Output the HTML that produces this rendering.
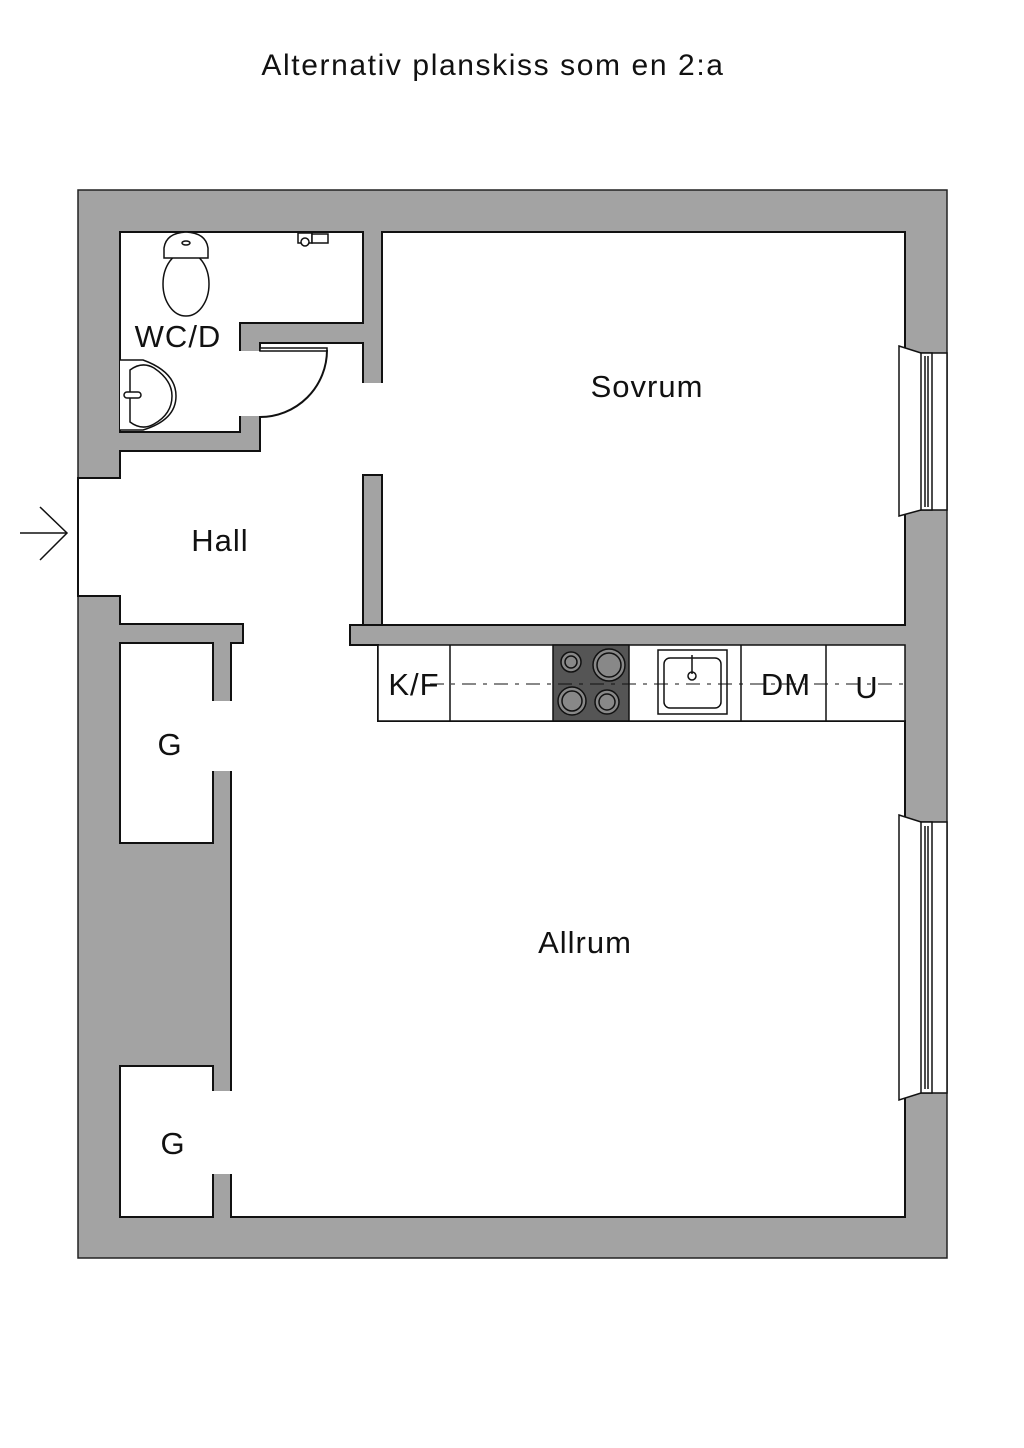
<!DOCTYPE html>
<html><head><meta charset="utf-8"><style>
html,body{margin:0;padding:0;background:#fff}
svg{display:block}
text{font-family:"Liberation Sans",sans-serif;fill:#111}
</style></head><body>
<svg width="1024" height="1448" viewBox="0 0 1024 1448" xmlns="http://www.w3.org/2000/svg">
<text x="493" y="75" font-size="30" letter-spacing="1.6" text-anchor="middle">Alternativ planskiss som en 2:a</text>
<rect x="78" y="190" width="869" height="1068" fill="#a3a3a3" stroke="#222" stroke-width="1.5"/>
<g fill="#fff" stroke="#111" stroke-width="2">
<polygon points="120,232 363,232 363,323 240,323 240,432 120,432"/>
<rect x="382" y="232" width="523" height="393"/>
<polygon points="120,451 260,451 260,343 363,343 363,625 350,625 350,645 378,645 378,721 905,721 905,1217 231,1217 231,643 243,643 243,624 120,624 120,596 78,596 78,478 120,478"/>
<rect x="120" y="643" width="93" height="200"/>
<rect x="120" y="1066" width="93" height="151"/>
</g>
<g fill="#fff">
<rect x="239" y="351" width="23" height="65"/>
<rect x="361" y="383" width="23" height="91"/>
<rect x="211" y="701" width="22" height="70"/>
<rect x="211" y="1091" width="22" height="83"/>
</g>
<rect x="363" y="475" width="19" height="150" fill="#a3a3a3" stroke="#111" stroke-width="2"/>
<rect x="351" y="626" width="554" height="18" fill="#a3a3a3"/>
<line x1="350" y1="625" x2="363" y2="625" stroke="#111" stroke-width="2"/>
<line x1="382" y1="625" x2="905" y2="625" stroke="#111" stroke-width="2"/>
<line x1="350" y1="625" x2="350" y2="645" stroke="#111" stroke-width="2"/>
<line x1="350" y1="645" x2="378" y2="645" stroke="#111" stroke-width="2"/>
<line x1="382" y1="538" x2="382" y2="548" stroke="#111" stroke-width="1"/>
<line x1="382" y1="597" x2="382" y2="607" stroke="#111" stroke-width="1"/>
<g fill="none" stroke="#111" stroke-width="2">
<rect x="260" y="348" width="67" height="3" fill="#fff" stroke-width="1.5"/>
<path d="M327,350 A67,67 0 0 1 260,417"/>
</g>
<g fill="#fff" stroke="#111" stroke-width="1.5">
<ellipse cx="186" cy="284" rx="23" ry="32"/>
<path d="M164,258 L164,248 Q166,233 186,232 Q206,233 208,248 L208,258 Z"/>
<ellipse cx="186" cy="243" rx="4" ry="2"/>
<rect x="298" y="233" width="14" height="10"/><rect x="312" y="234" width="16" height="9"/><circle cx="305" cy="242" r="4"/>
</g>
<g fill="#fff" stroke="#111" stroke-width="1.5">
<path d="M120,360 L143,360 Q176,372 176,396 Q176,420 143,430 L120,430"/>
<path d="M130,370 Q142,361 154,368 Q172,380 172,396 Q172,414 154,424 Q142,431 130,422 Z"/>
<rect x="124" y="392" width="17" height="6" rx="3"/>
</g>
<g stroke="#111" stroke-width="1.5">
<rect x="378" y="645" width="527" height="76" fill="#fff"/>
<rect x="553" y="645" width="76" height="76" fill="#555"/>
<line x1="450" y1="645" x2="450" y2="721"/>
<line x1="741" y1="645" x2="741" y2="721"/>
<line x1="826" y1="645" x2="826" y2="721"/>
</g>
<g fill="#888" stroke="#111" stroke-width="1.5">
<circle cx="571" cy="662" r="10"/><circle cx="571" cy="662" r="6"/>
<circle cx="609" cy="665" r="16"/><circle cx="609" cy="665" r="12"/>
<circle cx="572" cy="701" r="14"/><circle cx="572" cy="701" r="10"/>
<circle cx="607" cy="702" r="12"/><circle cx="607" cy="702" r="8"/>
</g>
<g fill="none" stroke="#111" stroke-width="1.5">
<rect x="658" y="650" width="69" height="64"/>
<rect x="664" y="658" width="57" height="50" rx="6"/>
<line x1="692" y1="655" x2="692" y2="674"/><circle cx="692" cy="676" r="4"/>
</g>
<line x1="430" y1="684" x2="905" y2="684" stroke="#111" stroke-width="1" stroke-dasharray="14,7,4,7"/>
<g fill="#fff" stroke="#111" stroke-width="1.5">
<polygon points="899,346 921,353 947,353 947,510 921,510 899,516"/>
<rect x="921" y="353" width="11" height="157"/>
<line x1="925" y1="356" x2="925" y2="507"/><line x1="928" y1="356" x2="928" y2="507"/>
<polygon points="899,815 921,822 947,822 947,1093 921,1093 899,1100"/>
<rect x="921" y="822" width="11" height="271"/>
<line x1="925" y1="826" x2="925" y2="1089"/><line x1="928" y1="826" x2="928" y2="1089"/>
</g>
<g fill="none" stroke="#111" stroke-width="1.5">
<line x1="20" y1="533" x2="67" y2="533"/>
<polyline points="40,507 67,533 40,560"/>
</g>
<g font-size="31" letter-spacing="1">
<text x="178" y="347" text-anchor="middle">WC/D</text>
<text x="220" y="551" text-anchor="middle">Hall</text>
<text x="647" y="397" text-anchor="middle">Sovrum</text>
<text x="585" y="953" text-anchor="middle">Allrum</text>
<text x="170" y="755" text-anchor="middle">G</text>
<text x="173" y="1154" text-anchor="middle">G</text>
<text x="414" y="695" text-anchor="middle">K/F</text>
<text x="786" y="695" text-anchor="middle">DM</text>
<text x="867" y="698" text-anchor="middle">U</text>
</g>
</svg>
</body></html>
